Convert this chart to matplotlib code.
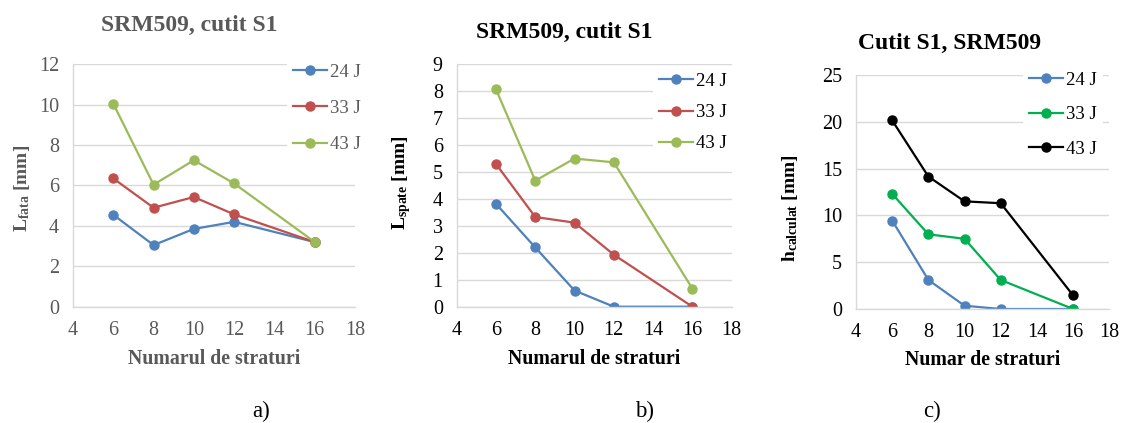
import matplotlib
matplotlib.use("Agg")
import matplotlib.pyplot as plt

plt.rcParams['font.family'] = ['Liberation Serif', 'DejaVu Serif']
plt.rcParams['mathtext.fontset'] = 'custom'
plt.rcParams['mathtext.rm'] = 'Liberation Serif'
plt.rcParams['mathtext.bf'] = 'Liberation Serif:bold'
plt.rcParams['mathtext.it'] = 'Liberation Serif:italic'

# Number of layers
straturi = [6, 8, 10, 12, 16]
energii = ['24 J', '33 J', '43 J']

# a) front-face damage length
l_fata_24 = [4.55, 3.05, 3.85, 4.2, 3.2]
l_fata_33 = [6.35, 4.9, 5.43, 4.57, 3.2]
l_fata_43 = [10.05, 6.04, 7.25, 6.1, 3.2]

# b) back-face damage length
l_spate_24 = [3.82, 2.2, 0.6, 0.0, 0.0]
l_spate_33 = [5.3, 3.33, 3.12, 1.93, 0.0]
l_spate_43 = [8.07, 4.68, 5.5, 5.36, 0.67]

# c) computed depth
h_calc_24 = [9.45, 3.1, 0.35, 0.0, 0.0]
h_calc_33 = [12.3, 7.98, 7.5, 3.1, 0.0]
h_calc_43 = [20.15, 14.15, 11.5, 11.3, 1.45]

W, H = 1126, 423
fig = plt.figure(figsize=(W / 100, H / 100), dpi=100)

GRAY = '#595959'
GRID = '#d9d9d9'
TICK_FS = 14.5
LEG_FS = 13.5


def px_axes(left, right, top, bottom):
    return fig.add_axes([left / W, (H - bottom) / H, (right - left) / W, (bottom - top) / H])


def style(ax, ymax, ystep, txtcolor):
    ax.set_xlim(4, 18)
    ax.set_xticks(range(4, 19, 2))
    ax.set_ylim(0, ymax)
    ax.set_yticks(range(0, ymax + 1, ystep))
    ax.grid(axis='y', color=GRID, linewidth=1.0)
    ax.set_axisbelow(True)
    for s in ['top', 'right']:
        ax.spines[s].set_visible(False)
    for s in ['left', 'bottom']:
        ax.spines[s].set_color(GRID)
        ax.spines[s].set_linewidth(1.0)
    ax.tick_params(length=0, labelsize=TICK_FS, labelcolor=txtcolor, pad=10)


def legend(ax, x, y, spacing, txtcolor):
    leg = ax.legend(loc='upper left', bbox_to_anchor=(x / W, (H - y) / H),
                    bbox_transform=fig.transFigure, frameon=True, fancybox=False,
                    edgecolor='none', facecolor='white', framealpha=1.0,
                    fontsize=LEG_FS, handlelength=1.85, handletextpad=0.15,
                    labelspacing=spacing, borderpad=0.3, borderaxespad=0)
    for t in leg.get_texts():
        t.set_color(txtcolor)
    return leg


lw, ms = 1.6, 6.5

# ---- a) ----
axa = px_axes(73, 355, 64.3, 306.7)
style(axa, 12, 2, GRAY)
for vals, c, lab in zip([l_fata_24, l_fata_33, l_fata_43],
                        ['#4F81BD', '#C0504D', '#9BBB59'], energii):
    axa.plot(straturi, vals, color=c, marker='o', lw=lw, ms=ms, label=lab)
legend(axa, 287, 58, 1.02, GRAY)
axa.set_ylabel(r'$\mathbf{L}_{\mathbf{fata}}$ [mm]', fontsize=14, fontweight='bold', color=GRAY)
axa.yaxis.set_label_coords(-0.145, 0.49)
axa.set_xlabel('Numarul de straturi', fontsize=14.3, fontweight='bold', color=GRAY)
axa.xaxis.set_label_coords(0.5, -0.215)
axa.xaxis.label.set_va('center')
fig.text(189 / W, (H - 30.7) / H, 'SRM509, cutit S1', fontsize=17, fontweight='bold',
         color=GRAY, ha='center', va='baseline')
fig.text(261 / W, (H - 416.7) / H, 'a)', fontsize=16.5, ha='center', va='baseline')

# ---- b) ----
axb = px_axes(456.7, 731.7, 64.3, 306.7)
style(axb, 9, 1, 'black')
for vals, c, lab in zip([l_spate_24, l_spate_33, l_spate_43],
                        ['#4F81BD', '#C0504D', '#9BBB59'], energii):
    axb.plot(straturi, vals, color=c, marker='o', lw=lw, ms=ms, label=lab)
legend(axb, 653, 67, 0.76, 'black')
axb.set_ylabel(r'$\mathbf{L}_{\mathbf{spate}}$ [mm]', fontsize=14, fontweight='bold')
axb.yaxis.set_label_coords(-0.159, 0.51)
axb.set_xlabel('Numarul de straturi', fontsize=14.3, fontweight='bold')
axb.xaxis.set_label_coords(0.5, -0.215)
axb.xaxis.label.set_va('center')
fig.text(564 / W, (H - 38.3) / H, 'SRM509, cutit S1', fontsize=17, fontweight='bold',
         ha='center', va='baseline')
fig.text(645 / W, (H - 416.7) / H, 'b)', fontsize=16.5, ha='center', va='baseline')

# ---- c) ----
axc = px_axes(856, 1109.3, 75, 309)
style(axc, 25, 5, 'black')
for vals, c, lab in zip([h_calc_24, h_calc_33, h_calc_43],
                        ['#4F81BD', '#00B050', '#000000'], energii):
    axc.plot(straturi, vals, color=c, marker='o', lw=lw, ms=ms, label=lab)
legend(axc, 1023, 66, 0.92, 'black')
axc.set_ylabel(r'$\mathbf{h}_{\mathbf{calculat}}$ [mm]', fontsize=14, fontweight='bold')
axc.yaxis.set_label_coords(-0.221, 0.43)
axc.set_xlabel('Numar de straturi', fontsize=14.3, fontweight='bold')
axc.xaxis.set_label_coords(0.5, -0.218)
axc.xaxis.label.set_va('center')
fig.text(950 / W, (H - 49) / H, 'Cutit S1, SRM509', fontsize=17, fontweight='bold',
         ha='center', va='baseline')
fig.text(932 / W, (H - 416.7) / H, 'c)', fontsize=16.5, ha='center', va='baseline')

fig.savefig('out.png', dpi=100, facecolor='white')
